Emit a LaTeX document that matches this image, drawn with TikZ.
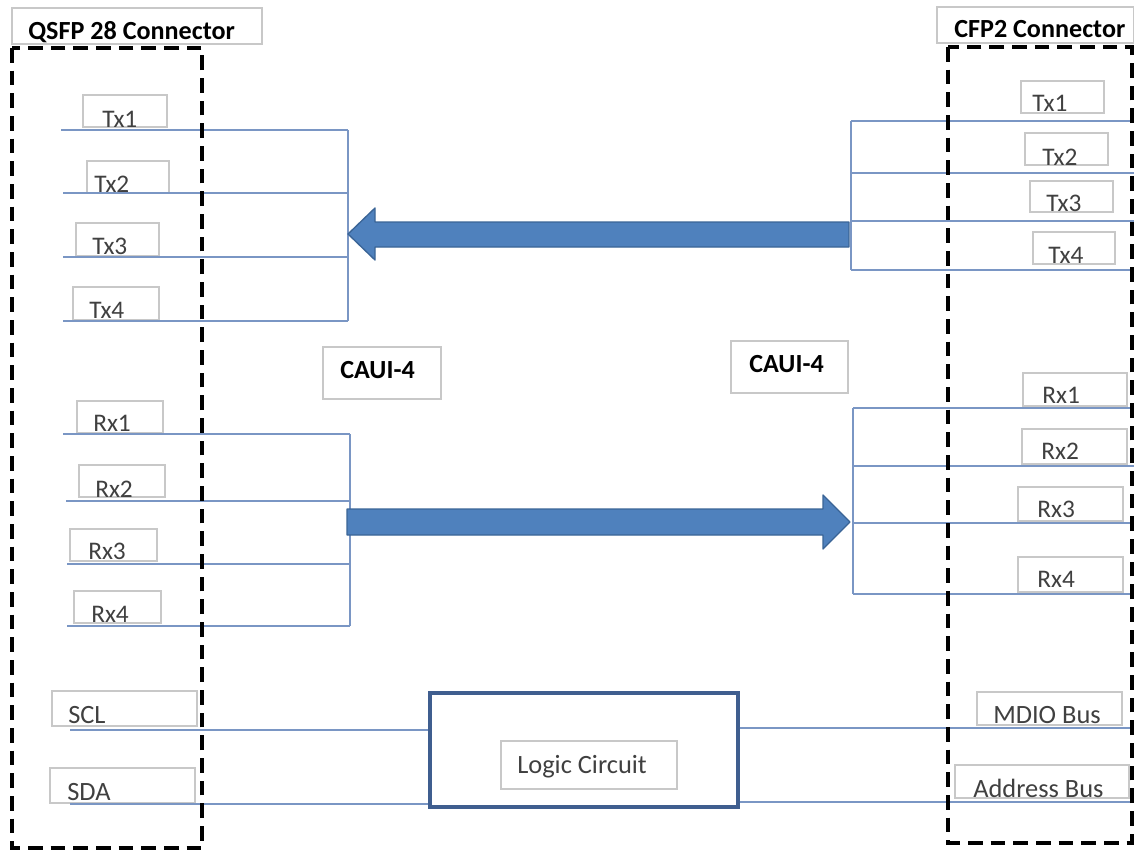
\documentclass[tikz,border=0pt]{standalone}
\usepackage{fontspec}
\setmainfont{Carlito}
\usetikzlibrary{fit}
\definecolor{wire}{HTML}{7A96C4}
\definecolor{boxgrey}{HTML}{C8C8C8}
\definecolor{arrowfill}{HTML}{4F81BD}
\definecolor{arrowedge}{HTML}{3A6496}
\definecolor{logicedge}{HTML}{3F5E8F}
\definecolor{txtgrey}{HTML}{404040}
\tikzset{
  wireline/.style={draw=wire, line width=1.1pt},
  lblbox/.style={draw=boxgrey, fill=white, line width=1pt, inner sep=0pt},
  lbltext/.style={inner sep=0pt, anchor=base west, text=txtgrey, font=\fontsize{19}{21}\selectfont},
  bigtext/.style={lbltext, font=\fontsize{19.8}{22}\selectfont},
  headtext/.style={inner sep=0pt, anchor=base west, text=black, font=\fontsize{19.6}{22}\selectfont\bfseries},
  connbox/.style={draw=black, line width=2.6pt, dash pattern=on 11pt off 6pt},
  fatarrow/.style={fill=arrowfill, draw=arrowedge, line width=1pt, line join=round},
  logicbox/.style={draw=logicedge, line width=2.6pt, inner sep=0pt},
}
\begin{document}
\begin{tikzpicture}[x=0.75pt,y=-0.75pt]
\useasboundingbox (0,0) rectangle (1134,851);
\fill[white] (0,0) rectangle (1134,851);

% bus bars
\coordinate (ltxbus) at (348,0);
\coordinate (lrxbus) at (350,0);
\coordinate (rtxbus) at (851,0);
\coordinate (rrxbus) at (853,0);
\coordinate (rightedge) at (1134,0);

% label boxes with texts
\foreach \n/\xa/\ya/\xb/\yb/\tx/\ty/\t in {
  ltx1/83/95/167/127/102/127/Tx1,
  ltx2/87/161/169/193/94/192/Tx2,
  ltx3/76/223/159/256/92/254/Tx3,
  ltx4/73/287/159/320/89/318/Tx4,
  lrx1/77/401/163/433/93/431/Rx1,
  lrx2/79/465/165/497/95/497/Rx2,
  lrx3/70/529/157/561/88/559/Rx3,
  lrx4/74/591/161/623/91/622/Rx4,
  rtx1/1021/81/1104/113/1032/111/Tx1,
  rtx2/1025/133/1108/165/1042/165/Tx2,
  rtx3/1030/181/1113/212/1046/211/Tx3,
  rtx4/1033/232/1115/264/1048/263/Tx4,
  rrx1/1023/373/1127/406/1042/403/Rx1,
  rrx2/1022/429/1127/464/1041/459/Rx2,
  rrx3/1018/487/1123/521/1037/517/Rx3,
  rrx4/1018/557/1123/592/1037/587/Rx4}{
  \node[lblbox, fit={(\xa,\ya)(\xb,\yb)}] (\n) {};
  \node[lbltext] (\n-t) at (\tx,\ty) {\t};
}
\foreach \n/\xa/\ya/\xb/\yb/\tx/\ty/\t in {
  scl/52/691/197/726/68/723/SCL,
  sda/50/768/195/803/67/800/SDA,
  mdio/977/692/1122/725/993/723/MDIO Bus,
  addr/955/765/1129/798/973/797/Address Bus}{
  \node[lblbox, fit={(\xa,\ya)(\xb,\yb)}] (\n) {};
  \node[bigtext] (\n-t) at (\tx,\ty) {\t};
}

% titles and CAUI labels
\node[lblbox, fit={(12,8)(262,44)}] (qsfpbox) {};
\node[headtext] (qsfp-t) at (28,39) {QSFP 28 Connector};
\node[lblbox, fit={(937,7)(1134,43)}] (cfpbox) {};
\node[headtext] (cfp-t) at (954,37) {CFP2 Connector};
\node[lblbox, fit={(323,347)(441,399)}] (cauil) {};
\node[headtext] (cauil-t) at (340,378) {CAUI-4};
\node[lblbox, fit={(731,341)(848,393)}] (cauir) {};
\node[headtext] (cauir-t) at (749,372) {CAUI-4};

% logic circuit
\node[logicbox, fit={(430,693)(738,807)}] (logic) {};
\node[lblbox, fit={(501,741)(677,789)}] (logiclbl) {};
\node[bigtext] (logic-t) at (517,773) {Logic Circuit};

% left wires
\foreach \n/\xa/\y in {ltx1/61/130, ltx2/63/193, ltx3/63/257, ltx4/63/321}{
  \coordinate (\n-w) at (\xa,\y);
  \draw[wireline] (\n-w) -- (\n-w -| ltxbus);
}
\draw[wireline] (ltx1-w -| ltxbus) -- (ltx4-w -| ltxbus);
\foreach \n/\xa/\y in {lrx1/63/434, lrx2/66/501, lrx3/67/564, lrx4/67/626}{
  \coordinate (\n-w) at (\xa,\y);
  \draw[wireline] (\n-w) -- (\n-w -| lrxbus);
}
\draw[wireline] (lrx1-w -| lrxbus) -- (lrx4-w -| lrxbus);

% right wires
\foreach \n/\y in {rtx1/121, rtx2/173, rtx3/221, rtx4/270}{
  \coordinate (\n-w) at (rtxbus |- 0,\y);
  \draw[wireline] (\n-w) -- (\n-w -| rightedge);
}
\draw[wireline] (rtx1-w) -- (rtx4-w);
\foreach \n/\y in {rrx1/408, rrx2/466, rrx3/523, rrx4/594}{
  \coordinate (\n-w) at (rrxbus |- 0,\y);
  \draw[wireline] (\n-w) -- (\n-w -| rightedge);
}
\draw[wireline] (rrx1-w) -- (rrx4-w);

% control wires
\coordinate (scl-w) at (70,730);
\coordinate (sda-w) at (70,804);
\draw[wireline] (scl-w) -- (scl-w -| logic.west);
\draw[wireline] (sda-w) -- (sda-w -| logic.west);
\coordinate (mdio-w) at (1134,728);
\coordinate (addr-w) at (1134,802);
\draw[wireline] (logic.east |- mdio-w) -- (mdio-w);
\draw[wireline] (logic.east |- addr-w) -- (addr-w);

% big arrows
\path[fatarrow] (849,222) -- (375,222) -- (375,208) -- (348,234) -- (375,260)
  -- (375,247) -- (849,247) -- cycle;
\path[fatarrow] (347,509) -- (823,509) -- (823,495) -- (850,522) -- (823,549)
  -- (823,535) -- (347,535) -- cycle;

% connector outlines
\draw[connbox] (12,48) rectangle (202,848);
\draw[connbox] (948,47) rectangle (1132,843);
\end{tikzpicture}
\end{document}
